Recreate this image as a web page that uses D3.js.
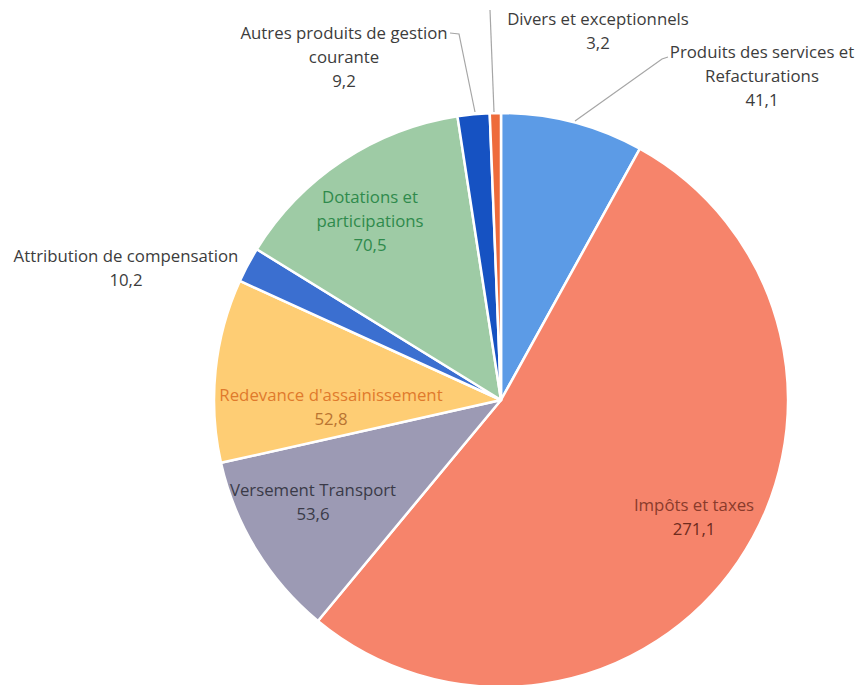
<!DOCTYPE html>
<html>
<head>
<meta charset="utf-8">
<script src="https://cdn.jsdelivr.net/npm/d3@7"></script>
<style>
  body { margin: 0; background: #fff; }
  svg { display: block; font-family: 'Open Sans', sans-serif; }
</style>
</head>
<body>
<svg width="859" height="685"></svg>
<script>
// values in M€, clockwise from 12 o'clock
const categories = [
  'Produits des services et Refacturations',
  'Impôts et taxes',
  'Versement Transport',
  "Redevance d'assainissement",
  'Attribution de compensation',
  'Dotations et participations',
  'Autres produits de gestion courante',
  'Divers et exceptionnels',
]
const values = [41.1, 271.1, 53.6, 52.8, 10.2, 70.5, 9.2, 3.2]
const valueLabels = ['41,1', '271,1', '53,6', '52,8', '10,2', '70,5', '9,2', '3,2']
const colors = ['#5c9be6', '#f6846b', '#9c9ab4', '#fecd74', '#3b6fd0', '#9ecba5', '#1652c2', '#ee6b3b']

// label layout: lines of text, anchor point, colour, leader line
const labels = [
  { lines: ['Produits des services et', 'Refacturations'], x: 762, y: 52, color: '#3c3c3c',
    leader: [[668, 57], [662, 59], [575, 121]] },
  { lines: ['Impôts et taxes'], x: 694, y: 505, color: '#8a3b2b', valueColor: '#6e2b1e' },
  { lines: ['Versement Transport'], x: 313, y: 490, color: '#3a3a48' },
  { lines: ["Redevance d'assainissement"], x: 331, y: 395, color: '#e07a2c', valueColor: '#b97431' },
  { lines: ['Attribution de compensation'], x: 126, y: 256, color: '#3c3c3c' },
  { lines: ['Dotations et', 'participations'], x: 370, y: 197, color: '#2f8a4c' },
  { lines: ['Autres produits de gestion', 'courante'], x: 344, y: 33, color: '#3c3c3c',
    leader: [[450, 33], [459, 34], [475, 112]] },
  { lines: ['Divers et exceptionnels'], x: 598, y: 19, color: '#3c3c3c',
    leader: [[490, 10], [494, 112]] },
]

const cx = 501, cy = 400, radius = 287, lineH = 24

const svg = d3.select('svg')

const pie = d3.pie().sort(null).value(d => d)
const arc = d3.arc().innerRadius(0).outerRadius(radius)

const g = svg.append('g').attr('transform', `translate(${cx}, ${cy})`)

g.selectAll('path.slice')
  .data(pie(values))
  .join('path')
  .classed('slice', true)
  .attr('d', arc)
  .attr('fill', (d, i) => colors[i])
  .attr('stroke', '#fff')
  .attr('stroke-width', 2.5)
  .attr('stroke-linejoin', 'round')

svg.selectAll('path.leader')
  .data(labels.filter(d => d.leader))
  .join('path')
  .classed('leader', true)
  .attr('d', d => d3.line()(d.leader))
  .attr('fill', 'none')
  .attr('stroke', '#a6a6a6')
  .attr('stroke-width', 1.2)

const texts = svg.selectAll('text.label')
  .data(labels)
  .join('text')
  .classed('label', true)
  .attr('text-anchor', 'middle')
  .attr('font-size', 16.8)

texts.each(function (d, i) {
  const t = d3.select(this)
  const rows = [...d.lines, valueLabels[i]]
  rows.forEach((s, k) => {
    t.append('tspan')
      .attr('x', d.x)
      .attr('y', d.y + k * lineH)
      .attr('dy', '0.35em')
      .attr('fill', k === rows.length - 1 && d.valueColor ? d.valueColor : d.color)
      .text(s)
  })
})
</script>
</body>
</html>
